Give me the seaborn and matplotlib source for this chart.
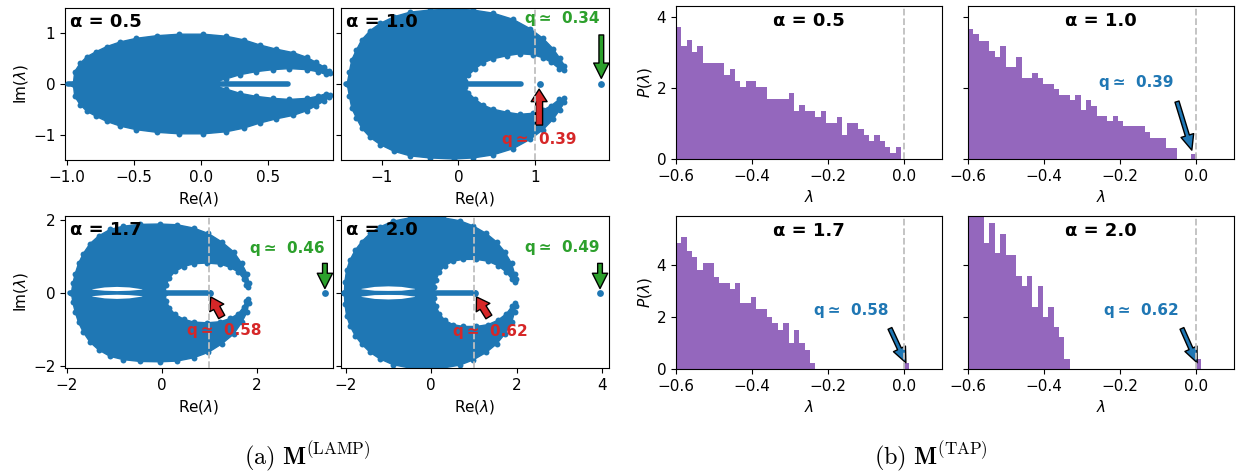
import numpy as np
import pandas as pd
import matplotlib
matplotlib.use("Agg")
import matplotlib.pyplot as plt
import seaborn as sns

BLUE = '#1f77b4'
GREEN = '#2ca02c'
RED = '#d62728'
PURPLE = '#9467bd'

# ---------------- (a) LAMP spectra ----------------
# upper half of each eigenvalue cloud: outer edge (left tip -> arm tip),
# then the edge of the hole back to the real axis; the cloud is mirrored in Im=0
lamp05_outer = [(-0.95, 0.0), (-0.94, 0.24), (-0.90, 0.40), (-0.85, 0.53), (-0.78, 0.63),
                (-0.70, 0.73), (-0.60, 0.82), (-0.48, 0.89), (-0.33, 0.94), (-0.16, 0.97),
                (0.02, 0.97), (0.19, 0.93), (0.32, 0.86), (0.44, 0.76), (0.56, 0.68),
                (0.69, 0.61), (0.79, 0.52), (0.86, 0.42), (0.92, 0.33), (0.955, 0.26),
                (0.96, 0.21)]
lamp05_hole = [(0.93, 0.19), (0.87, 0.24), (0.79, 0.28), (0.66, 0.30), (0.54, 0.28),
               (0.41, 0.24), (0.29, 0.18), (0.19, 0.10), (0.12, 0.05), (0.08, 0.0)]

lamp10_outer = [(-1.45, 0.0), (-1.42, 0.24), (-1.39, 0.47), (-1.33, 0.66), (-1.26, 0.86),
                (-1.15, 1.04), (-1.02, 1.18), (-0.84, 1.31), (-0.63, 1.40), (-0.37, 1.44),
                (-0.06, 1.46), (0.19, 1.44), (0.45, 1.38), (0.71, 1.26), (0.93, 1.08),
                (1.10, 0.89), (1.23, 0.69), (1.32, 0.50), (1.38, 0.36), (1.37, 0.28)]
lamp10_hole = [(1.31, 0.30), (1.21, 0.42), (1.10, 0.51), (0.97, 0.57), (0.80, 0.59),
               (0.63, 0.55), (0.45, 0.49), (0.32, 0.41), (0.22, 0.30), (0.13, 0.17),
               (0.08, 0.06), (0.065, 0.0)]

lamp17_outer = [(-1.90, 0.0), (-1.87, 0.26), (-1.82, 0.53), (-1.75, 0.81), (-1.65, 1.08),
                (-1.51, 1.35), (-1.33, 1.56), (-1.09, 1.74), (-0.81, 1.83), (-0.46, 1.88),
                (-0.04, 1.89), (0.32, 1.87), (0.67, 1.78), (0.98, 1.63), (1.26, 1.40),
                (1.51, 1.13), (1.68, 0.81), (1.79, 0.53), (1.83, 0.28), (1.82, 0.16)]
lamp17_hole = [(1.77, 0.22), (1.72, 0.39), (1.61, 0.57), (1.44, 0.70), (1.23, 0.79),
               (0.95, 0.82), (0.67, 0.80), (0.46, 0.72), (0.28, 0.59), (0.16, 0.41),
               (0.09, 0.21), (0.07, 0.0)]

lamp20_outer = [(-2.03, 0.0), (-2.02, 0.30), (-1.98, 0.62), (-1.90, 0.90), (-1.78, 1.17),
                (-1.63, 1.40), (-1.43, 1.63), (-1.20, 1.81), (-0.89, 1.97), (-0.50, 2.06),
                (-0.11, 2.09), (0.28, 2.06), (0.67, 1.98), (0.98, 1.84), (1.29, 1.63),
                (1.53, 1.40), (1.72, 1.13), (1.88, 0.81), (1.95, 0.53), (1.98, 0.37),
                (1.97, 0.29)]
lamp20_hole = [(1.89, 0.37), (1.76, 0.57), (1.56, 0.75), (1.33, 0.87), (1.06, 0.92),
               (0.75, 0.92), (0.51, 0.87), (0.32, 0.75), (0.19, 0.57), (0.11, 0.35),
               (0.07, 0.15), (0.07, 0.0)]

# thin empty lenses just above (and below) the real axis
lens17_x = [-1.46, -1.20, -0.94, -0.68, -0.41]
lens17_top = [0.10, 0.150, 0.165, 0.150, 0.10]
lens17_bot = [0.09, 0.060, 0.050, 0.060, 0.09]
lens20_x = [-1.63, -1.32, -1.00, -0.69, -0.38]
lens20_top = [0.11, 0.165, 0.180, 0.165, 0.11]
lens20_bot = [0.10, 0.060, 0.055, 0.060, 0.10]

# runs of real eigenvalues (start, end)
axis05 = [(-0.99, -0.85), (0.08, 0.65)]
axis10 = [(-1.47, -1.35), (0.065, 0.82)]
axis17 = [(-1.93, -1.80), (0.07, 1.02)]
axis20 = [(-2.05, -1.90), (0.07, 1.02)]

# isolated eigenvalues: red one (q from the bulk edge) and green outlier
red_pts = [None, 1.06, 1.02, 1.02]
green_pts = [None, 1.86, 3.43, 3.95]
red_q = [None, 0.39, 0.58, 0.62]
green_q = [None, 0.34, 0.46, 0.49]

# annotation placement per panel: green text, green arrow tail/head, red text, red arrow tail/head
green_text = [None, (1.355, 1.28), (2.63, 1.22), (3.06, 1.24)]
green_tail = [None, (1.86, 0.955), (3.43, 0.81), (3.95, 0.81)]
green_head = [None, (1.86, 0.11), (3.43, 0.12), (3.95, 0.12)]
red_text = [None, (1.05, -1.09), (1.31, -1.04), (1.39, -1.05)]
red_tail = [None, (1.05, -0.80), (1.26, -0.66), (1.35, -0.66)]
red_head = [None, (1.05, -0.10), (1.03, -0.11), (1.06, -0.11)]

alphas = [0.5, 1.0, 1.7, 2.0]
lamp_xlim = [(-1.012, 0.985), (-1.53, 1.96), (-2.035, 3.6), (-2.11, 4.16)]
lamp_xticks = [[-1.0, -0.5, 0.0, 0.5], [-1, 0, 1], [-2, 0, 2], [-2, 0, 2, 4]]

# ---------------- (b) TAP spectra: histograms of real eigenvalues ----------------
bin_start = -0.6
bin_width = 0.0141
hist05 = [3.72, 3.2, 3.37, 3.03, 3.2, 2.7, 2.7, 2.7, 2.7, 2.37, 2.53, 2.2, 2.02, 2.2, 2.2,
          2.03, 2.03, 1.7, 1.7, 1.7, 1.7, 1.85, 1.36, 1.52, 1.36, 1.36, 1.19, 1.36, 1.02,
          1.02, 1.19, 0.68, 1.02, 1.02, 0.85, 0.68, 0.51, 0.68, 0.51, 0.34, 0.17, 0.34]
hist10 = [3.66, 3.52, 3.34, 3.34, 3.05, 2.89, 3.2, 2.59, 2.59, 2.89, 2.28, 2.28, 2.44,
          2.28, 2.12, 2.12, 1.97, 1.81, 1.81, 1.67, 1.81, 1.39, 1.67, 1.5, 1.22, 1.22,
          1.06, 1.22, 1.06, 0.92, 0.92, 0.92, 0.92, 0.75, 0.6, 0.6, 0.6, 0.3, 0.3]
hist17 = [4.83, 5.06, 4.55, 4.32, 3.81, 4.06, 4.06, 3.55, 3.29, 3.29, 3.06, 3.29, 2.55,
          2.55, 2.78, 2.29, 2.29, 2.01, 1.76, 1.5, 1.76, 1.01, 1.5, 1.01, 0.73, 0.24]
hist20 = [6.5, 6.1, 6.0, 4.83, 5.6, 4.45, 5.19, 4.38, 4.38, 3.58, 3.19, 3.58, 2.4, 3.19,
          1.99, 2.4, 1.6, 1.22, 0.38]
# the single eigenvalue near zero: bin left edge and height
spike_left = [None, -0.012, 0.0, 0.0]
spike_height = [None, 0.15, 0.24, 0.38]
tap_q = [None, 0.39, 0.58, 0.62]
tap_text = [None, (-0.158, 2.16), (-0.14, 2.23), (-0.143, 2.23)]
tap_tail = [None, (-0.05, 1.62), (-0.037, 1.56), (-0.037, 1.56)]
tap_head = [None, (-0.011, 0.25), (0.005, 0.24), (0.003, 0.24)]
tap_ylim = [4.32, 4.32, 5.88, 5.88]

sns.set_style("ticks")
plt.rcParams['font.family'] = ['DejaVu Sans']
plt.rcParams['mathtext.fontset'] = 'dejavusans'
for key in ['text.color', 'axes.labelcolor', 'xtick.color', 'ytick.color', 'axes.edgecolor']:
    plt.rcParams[key] = 'black'

W, H = 1239, 471
fig = plt.figure(figsize=(W / 100, H / 100), dpi=100)


def px_axes(x0, y0, x1, y1):
    return fig.add_axes([x0 / W, 1 - y1 / H, (x1 - x0) / W, (y1 - y0) / H])


lamp_axes = [px_axes(65, 8, 333, 160), px_axes(341, 8, 609, 160),
             px_axes(65, 216, 333, 368), px_axes(341, 216, 609, 368)]
tap_axes = [px_axes(676, 6, 942, 159), px_axes(968, 6, 1234, 159),
            px_axes(676, 216, 942, 369), px_axes(968, 216, 1234, 369)]

TICK = 11
LABEL = 11
Q_LABEL = 'q\u2009\u2243  {:.2f}'


def crescent(outer, hole):
    upper = np.array(outer + hole)
    lower = upper[::-1] * np.array([1, -1])
    pts = np.vstack([upper, lower])
    return pts[:, 0], pts[:, 1]


def block_arrow(ax, tail, head, color, width, headwidth, headlength):
    ax.annotate('', xy=head, xytext=tail,
                arrowprops=dict(facecolor=color, edgecolor='black', lw=1.0,
                                width=width, headwidth=headwidth, headlength=headlength))


def purple_hist(ax, edges, heights):
    edges = list(edges)
    df = pd.DataFrame({
        'lam': [0.5 * (a + b) for a, b in zip(edges[:-1], edges[1:])],
        'w': list(heights),
    })
    sns.histplot(data=df, x='lam', weights='w', bins=edges, color=PURPLE, alpha=1,
                 linewidth=0, ax=ax)


shapes = [(lamp05_outer, lamp05_hole), (lamp10_outer, lamp10_hole),
          (lamp17_outer, lamp17_hole), (lamp20_outer, lamp20_hole)]
lenses = [None, None, (lens17_x, lens17_top, lens17_bot), (lens20_x, lens20_top, lens20_bot)]
axis_runs = [axis05, axis10, axis17, axis20]

for i, ax in enumerate(lamp_axes):
    outer, hole = shapes[i]
    px, py = crescent(outer, hole)
    ax.fill(px, py, facecolor=BLUE, edgecolor=BLUE, lw=1.0, joinstyle='round', zorder=2)
    # the boundary eigenvalues give the cloud its dotted rim
    sns.scatterplot(x=px, y=py, color=BLUE, s=18, linewidth=0, ax=ax, zorder=2)
    if lenses[i] is not None:
        lx, lt, lb = lenses[i]
        for s in (1, -1):
            ax.fill(lx + lx[::-1], [s * v for v in lt] + [s * v for v in lb[::-1]],
                    color='white', lw=0, zorder=3)
    for a, b in axis_runs[i]:
        ax.plot([a, b], [0, 0], color=BLUE, lw=4, solid_capstyle='round', zorder=4)
    if red_pts[i] is not None:
        sns.scatterplot(x=[red_pts[i], green_pts[i]], y=[0, 0], color=BLUE, s=24,
                        linewidth=0, ax=ax, zorder=5)
        ax.axvline(1.0, color='0.75', ls='--', lw=1.3, zorder=6)
        block_arrow(ax, green_tail[i], green_head[i], GREEN, 3.4, 11, 11)
        block_arrow(ax, red_tail[i], red_head[i], RED, 5, 11.5, 9)
        ax.text(*green_text[i], Q_LABEL.format(green_q[i]), color=GREEN, fontsize=11,
                fontweight='bold', ha='center', va='center', zorder=7)
        ax.text(*red_text[i], Q_LABEL.format(red_q[i]), color=RED, fontsize=11,
                fontweight='bold', ha='center', va='center', zorder=7)
    ax.text(0.02, 0.905, f'\u03b1 = {alphas[i]}', transform=ax.transAxes, fontsize=13,
            fontweight='bold', ha='left', va='center', zorder=8)
    ax.set_xlim(*lamp_xlim[i])
    ax.set_xticks(lamp_xticks[i])
    if i < 2:
        ax.set_ylim(-1.48, 1.48)
        ax.set_yticks([-1, 0, 1])
    else:
        ax.set_ylim(-2.06, 2.11)
        ax.set_yticks([-2, 0, 2])
    ax.set_xlabel(r'Re($\lambda$)', fontsize=LABEL)
    if i % 2 == 0:
        ax.set_ylabel(r'Im($\lambda$)', fontsize=LABEL, labelpad=2)
    else:
        ax.tick_params(labelleft=False)
    ax.tick_params(labelsize=TICK)

hists = [hist05, hist10, hist17, hist20]
for i, ax in enumerate(tap_axes):
    heights = hists[i]
    edges = bin_start + bin_width * np.arange(len(heights) + 1)
    purple_hist(ax, edges, heights)
    if spike_left[i] is not None:
        sl = spike_left[i]
        purple_hist(ax, [sl, sl + bin_width], [spike_height[i]])
        block_arrow(ax, tap_tail[i], tap_head[i], BLUE, 3, 9.5, 11)
        ax.text(*tap_text[i], Q_LABEL.format(tap_q[i]), color=BLUE, fontsize=11,
                fontweight='bold', ha='center', va='center', zorder=7)
    ax.axvline(0.0, color='0.75', ls='--', lw=1.3, zorder=6)
    ax.text(0.5, 0.905, f'\u03b1 = {alphas[i]}', transform=ax.transAxes, fontsize=13,
            fontweight='bold', ha='center', va='center')
    ax.set_xlim(-0.6, 0.1)
    ax.set_ylim(0, tap_ylim[i])
    ax.set_xticks([-0.6, -0.4, -0.2, 0.0])
    ax.set_yticks([0, 2, 4])
    ax.set_xlabel(r'$\lambda$', fontsize=LABEL)
    if i % 2 == 0:
        ax.set_ylabel(r'$P(\lambda)$', fontsize=LABEL, labelpad=2)
    else:
        ax.set_ylabel('')
        ax.tick_params(labelleft=False)
    ax.tick_params(labelsize=TICK)

fig.text(307 / W, 1 - 456 / H, r'$\mathrm{(a)}\ \mathbf{M}^{(\mathrm{LAMP})}$',
         ha='center', va='center', fontsize=17.5, math_fontfamily='cm')
fig.text(931 / W, 1 - 456 / H, r'$\mathrm{(b)}\ \mathbf{M}^{(\mathrm{TAP})}$',
         ha='center', va='center', fontsize=17.5, math_fontfamily='cm')

fig.savefig('out.png', dpi=100)
